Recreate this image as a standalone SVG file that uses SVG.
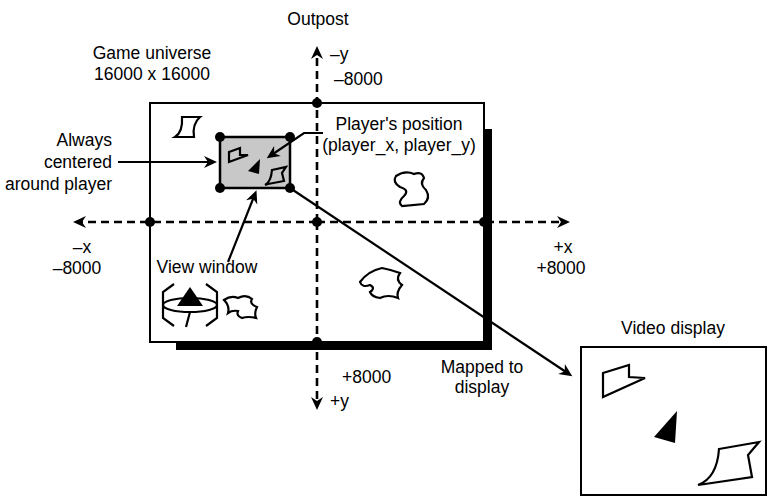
<svg xmlns="http://www.w3.org/2000/svg" width="768" height="497" viewBox="0 0 768 497">
  <style>
    .lbl { font-family: "Liberation Sans", Arial, sans-serif; font-size: 17.5px; fill: #000; }
    .mid { text-anchor: middle; }
    .end { text-anchor: end; }
    .ln { stroke: #000; stroke-width: 2.2; fill: none; }
    .axis { stroke: #000; stroke-width: 2.6; fill: none; stroke-dasharray: 8 5; }
    .shape { stroke: #000; stroke-width: 2.2; fill: none; stroke-linejoin: miter; }
    .dot { fill: #000; }
  </style>
  <defs>
    <marker id="arrow" markerUnits="userSpaceOnUse" viewBox="-10 -7 15 14" refX="0" refY="0" markerWidth="15" markerHeight="14" orient="auto">
      <path d="M4,0 L-9,-6 L-5,0 L-9,6 Z" fill="#000"/>
    </marker>
  </defs>

  <!-- game universe with drop shadow -->
  <g id="universe">
    <rect x="176" y="129" width="316" height="221" fill="#000"/>
    <rect x="150" y="103" width="334" height="239" fill="#fff" stroke="#000" stroke-width="2"/>
  </g>

  <!-- objects scattered in the universe -->
  <g id="objects">
    <path class="shape" d="M182,117 L200,117 Q192,124 194,137 L175,137 Q183,132 182,117 Z"/>
    <path class="shape" d="M396,176 Q405,170 414,174 Q422,171 424,178 Q419,184 426,190 Q431,198 424,204 L402,206 Q397,202 404,196 Q410,190 400,187 Q392,182 396,176 Z"/>
    <path class="shape" d="M360,282 Q368,271 382,268 Q392,270 400,273 Q395,280 402,285 Q396,292 398,298 Q388,294 380,298 Q372,297 370,292 Q376,288 370,285 Q362,288 360,282 Z"/>
    <path class="shape" d="M224,300 Q231,295 238,298 Q246,294 252,299 Q249,304 257,307 Q254,313 256,318 Q248,316 242,318 Q236,316 238,311 Q232,310 228,313 Q230,306 224,300 Z"/>
  </g>

  <!-- outpost icon -->
  <g id="outpost-icon">
    <path class="ln" d="M174,284 L163,292 L163,318 L174,326"/>
    <path class="ln" d="M206,284 L217,292 L217,318 L206,326"/>
    <ellipse cx="190" cy="305" rx="27" ry="7" class="ln"/>
    <path d="M190,287 L177,306 L203,306 Z" fill="#000"/>
    <path class="ln" d="M190,312 L186,327"/>
  </g>

  <!-- view window -->
  <g id="view-window">
    <rect x="220" y="137" width="70" height="51" fill="#c8c8c8" stroke="#000" stroke-width="2.5"/>
    <path class="shape" d="M229,152 L240,148 L240,155 L248,155 L229,162 Z"/>
    <path d="M260,159 L248,171 L259,174 Z" fill="#000"/>
    <path class="shape" d="M272,170 L286,167 L282,173 L284,181 L268,184 L265,185 Q271,182 272,170 Z"/>
    <circle class="dot" cx="220" cy="137" r="5"/>
    <circle class="dot" cx="290" cy="137" r="5"/>
    <circle class="dot" cx="220" cy="188" r="5"/>
    <circle class="dot" cx="290" cy="188" r="5"/>
  </g>

  <!-- video display -->
  <g id="video-display">
    <rect x="581" y="347" width="185" height="148" fill="#fff" stroke="#000" stroke-width="2"/>
    <path class="shape" d="M603,373 L629,365 L629,377 L645,378 L603,397 Z"/>
    <path d="M677,411 L654,437 L675,443 Z" fill="#000"/>
    <path class="shape" d="M719,449 L759,442 L748,455 L752,477 L705,484 L698,485 Q717,478 719,449 Z"/>
  </g>

  <!-- connectors and axes -->
  <g id="connectors">
    <line class="axis" x1="317" y1="222" x2="317" y2="50" marker-end="url(#arrow)"/>
    <line class="axis" x1="317" y1="222" x2="317" y2="406" marker-end="url(#arrow)"/>
    <line class="axis" x1="317" y1="222" x2="77" y2="222" marker-end="url(#arrow)"/>
    <line class="axis" x1="317" y1="222" x2="566" y2="222" marker-end="url(#arrow)"/>
    <line class="ln" x1="118" y1="162" x2="213" y2="162" marker-end="url(#arrow)"/>
    <line class="ln" x1="228" y1="262" x2="255" y2="194" marker-end="url(#arrow)"/>
    <polyline class="ln" points="323,133 304,133 270,156" marker-end="url(#arrow)"/>
    <line class="ln" x1="290" y1="188" x2="569" y2="374" marker-end="url(#arrow)"/>
    <circle class="dot" cx="317" cy="103" r="5"/>
    <circle class="dot" cx="150" cy="222" r="5"/>
    <circle class="dot" cx="484" cy="222" r="5"/>
    <circle class="dot" cx="317" cy="342" r="5"/>
    <circle class="dot" cx="317" cy="222" r="5"/>
  </g>

  <!-- labels -->
  <g id="labels">
    <text class="lbl mid" x="318" y="25">Outpost</text>
    <text class="lbl mid" x="152" y="59">Game universe</text>
    <text class="lbl mid" x="152" y="80">16000 x 16000</text>
    <text class="lbl" x="330" y="60">–y</text>
    <text class="lbl" x="334" y="85">–8000</text>
    <text class="lbl mid" x="399" y="130">Player's position</text>
    <text class="lbl mid" x="399" y="151">(player_x, player_y)</text>
    <text class="lbl end" x="112" y="146">Always</text>
    <text class="lbl end" x="112" y="168">centered</text>
    <text class="lbl end" x="112" y="190">around player</text>
    <text class="lbl mid" x="82" y="253">–x</text>
    <text class="lbl mid" x="77" y="274">–8000</text>
    <text class="lbl mid" x="563" y="253">+x</text>
    <text class="lbl mid" x="561" y="274">+8000</text>
    <text class="lbl mid" x="207" y="273">View window</text>
    <text class="lbl" x="342" y="383">+8000</text>
    <text class="lbl" x="330" y="407">+y</text>
    <text class="lbl mid" x="482" y="373">Mapped to</text>
    <text class="lbl mid" x="482" y="393">display</text>
    <text class="lbl mid" x="673" y="334">Video display</text>
  </g>
</svg>
